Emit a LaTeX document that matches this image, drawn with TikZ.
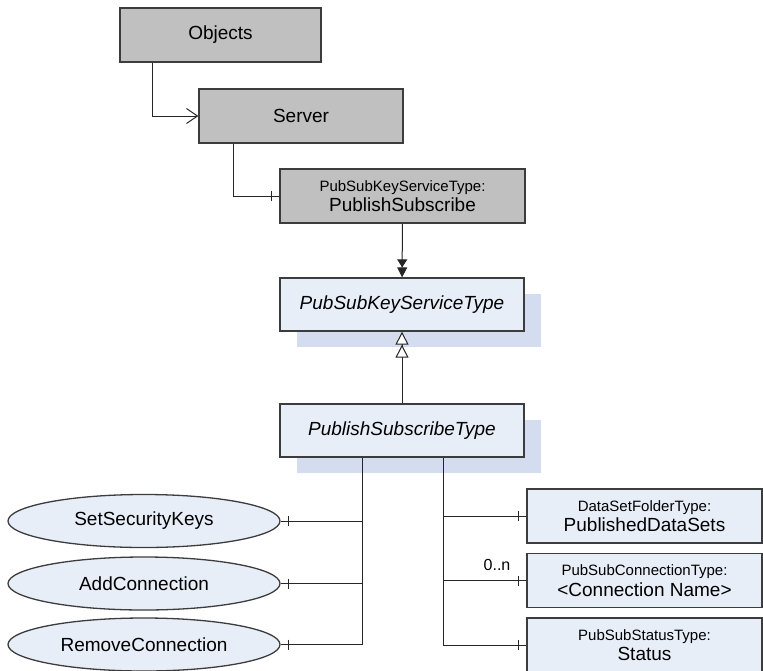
\documentclass[tikz,border=0pt]{standalone}
\usepackage{fontspec}
\setmainfont{Liberation Sans}
\usetikzlibrary{arrows.meta,shapes.geometric,shadows,decorations.markings}
\definecolor{objgray}{RGB}{192,192,192}
\definecolor{typefill}{RGB}{232,238,248}
\definecolor{typeshadow}{RGB}{211,221,239}
\definecolor{edgegray}{RGB}{60,60,60}
\newcommand{\typedname}[2]{{\fontsize{15}{18}\selectfont #1}\\#2}

\begin{document}
\begin{tikzpicture}[x=1pt, y=-1pt, >={Straight Barb[length=11pt,width=15pt]},
  objbox/.style={draw=edgegray, line width=1.3pt, fill=objgray, minimum height=54pt, inner sep=0pt, align=center, font=\fontsize{19}{20.5}\selectfont},
  typebox/.style={draw=edgegray, line width=1.3pt, fill=typefill, minimum width=244pt, minimum height=53pt, inner sep=0pt, font=\fontsize{19}{22}\selectfont\itshape, drop shadow={shadow xshift=17pt, shadow yshift=-16pt, fill=typeshadow, opacity=1}},
  instbox/.style={draw=edgegray, line width=1.3pt, fill=typefill, minimum width=235pt, minimum height=54pt, inner sep=0pt, align=center, font=\fontsize{19}{20.5}\selectfont},
  method/.style={ellipse, draw=edgegray, line width=1.3pt, fill=typefill, minimum width=272pt, minimum height=53pt, inner sep=0pt, font=\fontsize{19}{22}\selectfont},
  conn/.style={line width=1pt, black!85},
  hasbar/.style={postaction={decorate}, decoration={markings, mark=at position -8pt with {\draw[line width=1pt] (0,-5pt) -- (0,5pt);}}},
  typedef/.style={-{Triangle[length=8pt,width=10pt]Triangle[length=10pt,width=10pt]}},
  subtype/.style={-{Triangle[open,fill=white,length=13pt,width=13pt]Triangle[open,fill=white,length=13pt,width=13pt]}}]
  \useasboundingbox (0,0) rectangle (763,670);

  \node[objbox, minimum width=201pt] (obj) at (220.5,35) {Objects};
  \node[objbox, minimum width=204pt] (srv) at (301,116) {Server};
  \node[objbox, minimum width=245pt] (ps) at (402.5,196) {\typedname{PubSubKeyServiceType:}{PublishSubscribe}};

  \node[typebox] (pkst) at (402,304.5) {PubSubKeyServiceType};
  \node[typebox] (pst) at (402,430.5) {PublishSubscribeType};

  \node[method] (sk) at (144,521) {SetSecurityKeys};
  \node[method] (ac) at (144,583.5) {AddConnection};
  \node[method] (rc) at (144,644.5) {RemoveConnection};

  \node[instbox] (dsf) at (644.5,516) {\typedname{DataSetFolderType:}{PublishedDataSets}};
  \node[instbox] (con) at (644.5,580.5) {\typedname{PubSubConnectionType:}{<Connection Name>}};
  \node[instbox] (sts) at (644.5,645) {\typedname{PubSubStatusType:}{Status}};

  \draw[conn, ->] ([xshift=-68pt]obj.south) |- (srv);
  \draw[conn, hasbar] ([xshift=-68pt]srv.south) |- (ps);
  \draw[conn, typedef] (ps) -- (pkst);
  \draw[conn, subtype] (pst) -- (pkst);

  \draw[conn, hasbar] ([xshift=-40pt]pst.south) |- (sk);
  \draw[conn, hasbar] ([xshift=-40pt]pst.south) |- (ac);
  \draw[conn, hasbar] ([xshift=-40pt]pst.south) |- (rc);

  \draw[conn, hasbar] ([xshift=41pt]pst.south) |- (dsf);
  \draw[conn, hasbar] ([xshift=41pt]pst.south) |- (con);
  \draw[conn, hasbar] ([xshift=41pt]pst.south) |- (sts);
  \node[font=\fontsize{16}{18}\selectfont] (card) at (497,565) {0..n};
\end{tikzpicture}
\end{document}
